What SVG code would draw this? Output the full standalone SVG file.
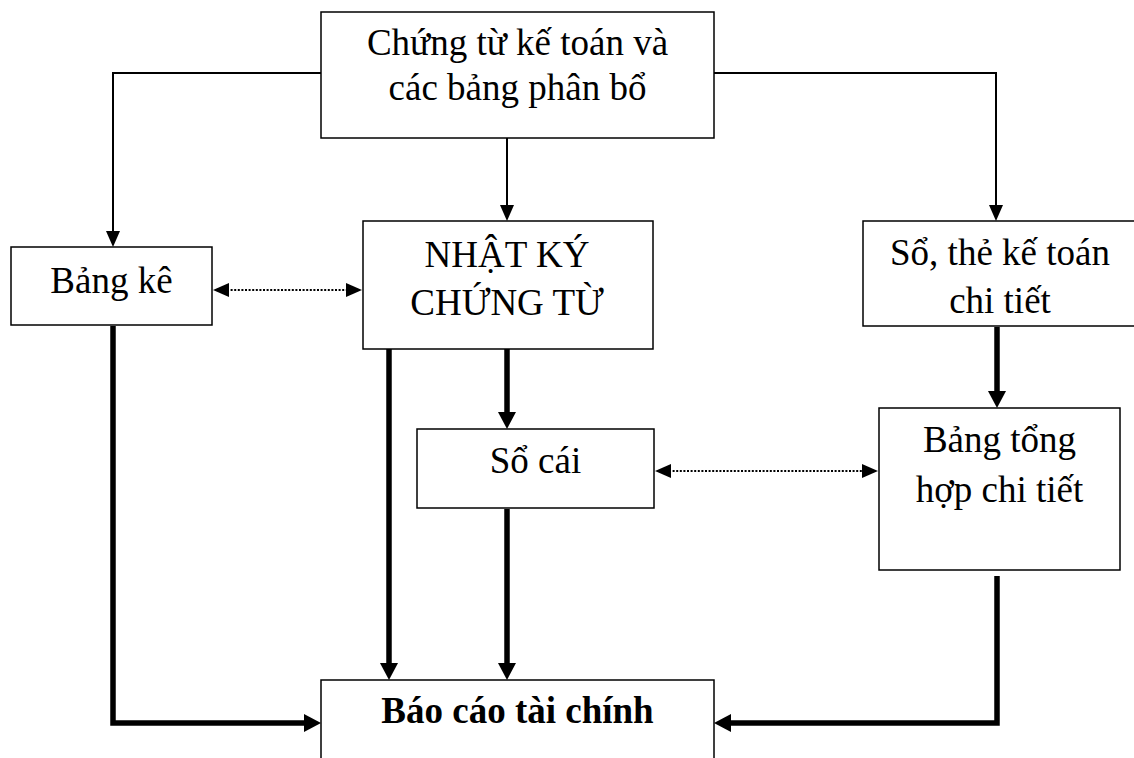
<svg xmlns="http://www.w3.org/2000/svg" width="1134" height="758" viewBox="0 0 1134 758">
<style>
.box{fill:#fff;stroke:#000;stroke-width:1.5}
.t{font-family:"Liberation Serif","Times New Roman",serif;font-size:37px;fill:#000;text-anchor:middle}
.b{font-weight:bold}
.thin{fill:none;stroke:#000;stroke-width:2;marker-end:url(#ah)}
.dot{fill:none;stroke:#000;stroke-width:2.2;stroke-dasharray:2 1.6;marker-start:url(#ah);marker-end:url(#ah)}
.thick{fill:none;stroke:#000;stroke-width:5.5;stroke-linejoin:miter;marker-end:url(#ahb)}
</style>
<defs>
<marker id="ah" markerUnits="userSpaceOnUse" markerWidth="16" markerHeight="14" refX="2" refY="7" orient="auto-start-reverse"><path d="M0,0 L16,7 L0,14 z" fill="#000"/></marker>
<marker id="ahb" markerUnits="userSpaceOnUse" markerWidth="17" markerHeight="18" refX="2" refY="9" orient="auto"><path d="M0,0 L17,9 L0,18 z" fill="#000"/></marker>
</defs>
<rect width="1134" height="758" fill="#fff"/>
<g id="connectors">
<path class="thin" d="M321,73 H113 V233"/>
<path class="thin" d="M507,138 V207"/>
<path class="thin" d="M714,73 H996 V207"/>
<path class="dot" d="M227,290 H348"/>
<path class="dot" d="M669,471 H864"/>
<path class="thick" d="M113,326 V723 H306"/>
<path class="thick" d="M389,349 V665"/>
<path class="thick" d="M507,349 V414"/>
<path class="thick" d="M507,509 V665"/>
<path class="thick" d="M997,327 V393"/>
<path class="thick" d="M997,576 V723 H729"/>
</g>
<g id="chung-tu">
<rect class="box" x="321" y="12" width="393" height="126"/>
<text class="t" x="517.5" y="55">Chứng từ kế toán và</text>
<text class="t" x="517.5" y="100">các bảng phân bổ</text>
</g>
<g id="bang-ke">
<rect class="box" x="11" y="247" width="201" height="78"/>
<text class="t" x="111.5" y="293">Bảng kê</text>
</g>
<g id="nhat-ky">
<rect class="box" x="363" y="221" width="290" height="128"/>
<text class="t" x="507" y="267">NHẬT KÝ</text>
<text class="t" x="507" y="315">CHỨNG TỪ</text>
</g>
<g id="so-the">
<rect class="box" x="863" y="221" width="280" height="105"/>
<text class="t" x="1000" y="265">Sổ, thẻ kế toán</text>
<text class="t" x="1000" y="313">chi tiết</text>
</g>
<g id="so-cai">
<rect class="box" x="417" y="429" width="237" height="79"/>
<text class="t" x="535.5" y="473">Sổ cái</text>
</g>
<g id="bang-tong-hop">
<rect class="box" x="879" y="408" width="241" height="162"/>
<text class="t" x="999.5" y="452">Bảng tổng</text>
<text class="t" x="999.5" y="502">hợp chi tiết</text>
</g>
<g id="bao-cao">
<rect class="box" x="321" y="680" width="393" height="100"/>
<text class="t b" x="517.5" y="723">Báo cáo tài chính</text>
</g>
</svg>
